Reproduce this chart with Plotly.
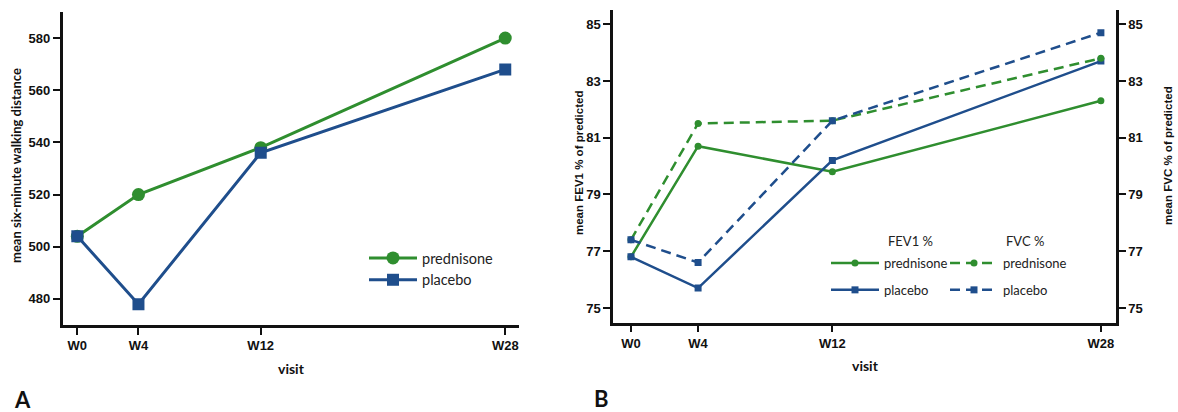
import plotly.graph_objects as go

# Visits (weeks since baseline) and their tick labels
weeks = [0, 4, 12, 28]
visits = ["W0", "W4", "W12", "W28"]

# Panel A: mean six-minute walking distance
smwd_prednisone = [504, 520, 538, 580]
smwd_placebo = [504, 478, 536, 568]
smwd_ticks = [480, 500, 520, 540, 560, 580]

# Panel B: mean FEV1 % of predicted
fev1_prednisone = [76.8, 80.7, 79.8, 82.3]
fev1_placebo = [76.8, 75.7, 80.2, 83.7]

# Panel B: mean FVC % of predicted
fvc_prednisone = [77.4, 81.5, 81.6, 83.8]
fvc_placebo = [77.4, 76.6, 81.6, 84.7]
pct_ticks = [75, 77, 79, 81, 83, 85]

GREEN = "#2f8e2f"
BLUE = "#1f4e8c"
W, H = 1178, 412


def fx(p):
    return p / W


def fy(p):
    return 1 - p / H


TICK_FONT = dict(family="Liberation Sans, Arial", size=13, color="#111", weight="bold")
LABEL_FONT = dict(family="Lato, Liberation Sans", size=14, color="#111", weight="bold")

fig = go.Figure()

# Panel A traces
fig.add_trace(go.Scatter(
    x=weeks, y=smwd_prednisone, name="prednisone", mode="lines+markers",
    line=dict(color=GREEN, width=3), marker=dict(symbol="circle", size=13, color=GREEN),
    xaxis="x", yaxis="y", legend="legend", legendgroup="a1"))
fig.add_trace(go.Scatter(
    x=weeks, y=smwd_placebo, name="placebo", mode="lines+markers",
    line=dict(color=BLUE, width=3), marker=dict(symbol="square", size=12, color=BLUE),
    xaxis="x", yaxis="y", legend="legend", legendgroup="a2"))

# Panel B traces: FEV1 on the left axis, FVC on the right axis
fig.add_trace(go.Scatter(
    x=weeks, y=fev1_prednisone, name="prednisone", mode="lines+markers",
    line=dict(color=GREEN, width=2.5), marker=dict(symbol="circle", size=7, color=GREEN),
    xaxis="x2", yaxis="y2", legend="legend2", legendgroup="b1"))
fig.add_trace(go.Scatter(
    x=weeks, y=fev1_placebo, name="placebo", mode="lines+markers",
    line=dict(color=BLUE, width=2.5), marker=dict(symbol="square", size=7, color=BLUE),
    xaxis="x2", yaxis="y2", legend="legend2", legendgroup="b2"))
fig.add_trace(go.Scatter(
    x=weeks, y=fvc_prednisone, name="prednisone", mode="lines+markers",
    line=dict(color=GREEN, width=2.5, dash="10px,6px"),
    marker=dict(symbol="circle", size=7, color=GREEN),
    xaxis="x2", yaxis="y3", legend="legend3", legendgroup="c1"))
fig.add_trace(go.Scatter(
    x=weeks, y=fvc_placebo, name="placebo", mode="lines+markers",
    line=dict(color=BLUE, width=2.5, dash="10px,6px"),
    marker=dict(symbol="square", size=7, color=BLUE),
    xaxis="x2", yaxis="y3", legend="legend3", legendgroup="c2"))

axis_common = dict(
    showline=True, linecolor="#111", linewidth=2.5, ticks="outside", ticklen=7,
    tickwidth=2, tickcolor="#111", showgrid=False, zeroline=False, tickfont=TICK_FONT,
    fixedrange=True,
)

fig.update_layout(
    width=W, height=H, margin=dict(l=0, r=0, t=0, b=0),
    paper_bgcolor="white", plot_bgcolor="white",
    xaxis=dict(domain=[fx(62.5), fx(519)], range=[-0.97, 28.9], tickvals=weeks,
               ticktext=visits, anchor="y", **axis_common),
    yaxis=dict(domain=[fy(325), fy(12)], range=[470, 590], tickvals=smwd_ticks,
               anchor="x", **axis_common),
    xaxis2=dict(domain=[fx(613), fx(1116)], range=[-1.07, 28.9], tickvals=weeks,
                ticktext=visits, anchor="y2", **axis_common),
    yaxis2=dict(domain=[fy(322.7), fy(10)], range=[74.48, 85.5], tickvals=pct_ticks,
                anchor="x2", **axis_common),
    yaxis3=dict(range=[74.48, 85.5], tickvals=pct_ticks, overlaying="y2", side="right",
                anchor="x2", **axis_common),
    legend=dict(x=fx(364), y=fy(242), xanchor="left", yanchor="top",
                bgcolor="rgba(0,0,0,0)", font=dict(family="Lato", size=14.5, color="#222"),
                traceorder="grouped", tracegroupgap=0, itemwidth=48),
    legend2=dict(x=fx(826), y=fy(248), xanchor="left", yanchor="top",
                 bgcolor="rgba(0,0,0,0)", font=dict(family="Lato", size=13, color="#222"),
                 traceorder="grouped", tracegroupgap=7, itemwidth=48),
    legend3=dict(x=fx(945), y=fy(248), xanchor="left", yanchor="top",
                 bgcolor="rgba(0,0,0,0)", font=dict(family="Lato", size=13, color="#222"),
                 traceorder="grouped", tracegroupgap=7, itemwidth=48),
)

annotations = [
    # axis titles
    dict(text="mean six-minute walking distance", x=fx(16), y=fy(166), textangle=-90,
         font=dict(family="Lato", size=13, color="#111", weight="bold")),
    dict(text="visit", x=fx(291), y=fy(368), font=LABEL_FONT),
    dict(text="mean FEV1 % of predicted", x=fx(579), y=fy(163), textangle=-90,
         font=dict(family="Liberation Sans", size=11.5, color="#111", weight="bold")),
    dict(text="mean FVC % of predicted", x=fx(1168), y=fy(156), textangle=-90,
         font=dict(family="Liberation Sans", size=11.5, color="#111", weight="bold")),
    dict(text="visit", x=fx(865), y=fy(365), font=LABEL_FONT),
    # legend headers
    dict(text="FEV1 %", x=fx(886), y=fy(241), xanchor="left",
         font=dict(family="Lato", size=13, color="#222")),
    dict(text="FVC %", x=fx(1004), y=fy(241), xanchor="left",
         font=dict(family="Lato", size=13, color="#222")),
    # panel letters
    dict(text="A", x=fx(22), y=fy(399), font=dict(family="Lato", size=22, color="#111", weight="bold")),
    dict(text="B", x=fx(601), y=fy(398), font=dict(family="Lato", size=22, color="#111", weight="bold")),
]
for a in annotations:
    a.update(xref="paper", yref="paper", showarrow=False)
    a.setdefault("xanchor", "center")
    a.setdefault("yanchor", "middle")
fig.update_layout(annotations=annotations)

fig.write_html("out.html", config=dict(displayModeBar=False))
